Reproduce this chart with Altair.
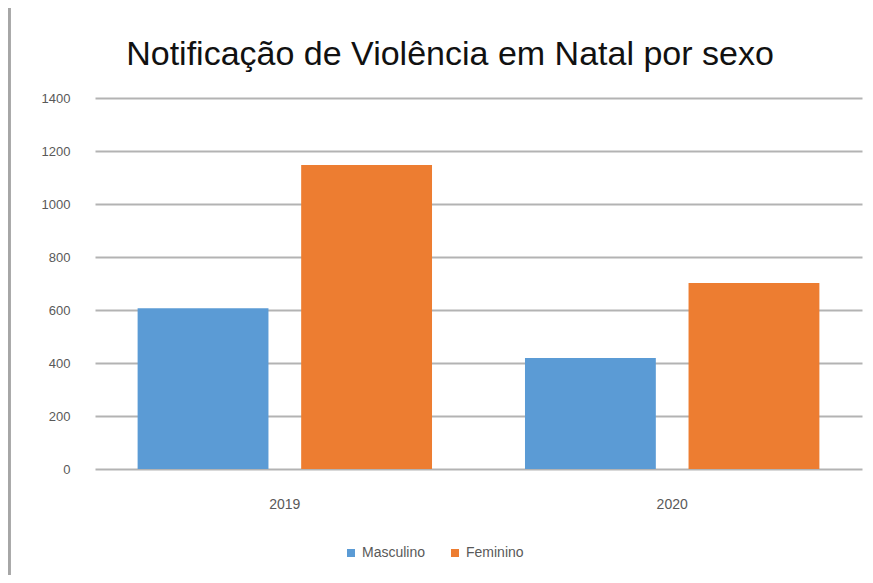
import altair as alt
import pandas as pd

titulo = "Notificação de Violência em Natal por sexo"
anos = ["2019", "2019", "2020", "2020"]
sexo = ["Masculino", "Feminino", "Masculino", "Feminino"]
valores = [607, 1147, 419, 702]
ticks_y = [0, 200, 400, 600, 800, 1000, 1200, 1400]

df = pd.DataFrame({"ano": anos, "sexo": sexo, "valor": valores})

bars = alt.Chart(df).mark_bar().encode(
    x=alt.X("ano:N", title=None,
            scale=alt.Scale(paddingInner=0.24, paddingOuter=0.11),
            axis=alt.Axis(labelAngle=0, ticks=False, domain=False, labelFontSize=14,
                          labelColor="#595959", labelPadding=28, labelFont="Liberation Sans")),
    xOffset=alt.XOffset("sexo:N", sort=["Masculino", "Feminino"],
                        scale=alt.Scale(paddingInner=0.2, paddingOuter=0)),
    y=alt.Y("valor:Q", title=None,
            scale=alt.Scale(domain=[0, 1400]),
            axis=alt.Axis(values=ticks_y, format="d", ticks=False,
                          domain=False, labelFontSize=13, labelColor="#595959",
                          labelPadding=25, gridColor="#b3b3b3", gridWidth=2,
                          labelFont="Liberation Sans")),
    color=alt.Color("sexo:N", sort=["Masculino", "Feminino"],
                    scale=alt.Scale(domain=["Masculino", "Feminino"],
                                    range=["#5b9bd5", "#ed7d31"]),
                    legend=alt.Legend(title=None, orient="none", direction="horizontal",
                                      legendX=249, legendY=448, symbolType="square",
                                      symbolSize=64, labelFontSize=14, labelColor="#595959",
                                      columnPadding=22, labelFont="Liberation Sans")),
)

title_mark = alt.Chart(pd.DataFrame({"t": [titulo]})).mark_text(
    fontSize=34, font="Liberation Sans", color="#111111", align="center", baseline="alphabetic"
).encode(x=alt.value(355), y=alt.value(-33), text="t:N")

border = alt.Chart(df).mark_rule(color="#a6a6a6", strokeWidth=3).encode(
    x=alt.value(-86), y=alt.value(-98), y2=alt.value(480)
)

chart = alt.layer(bars, title_mark, border).properties(
    width=767, height=371,
    padding={"left": 87, "top": 90, "right": 3, "bottom": 106},
    autosize=alt.AutoSizeParams(type="none"),
).configure_view(stroke=None)

chart.save("out.html", embed_options={"renderer": "svg", "actions": False})
